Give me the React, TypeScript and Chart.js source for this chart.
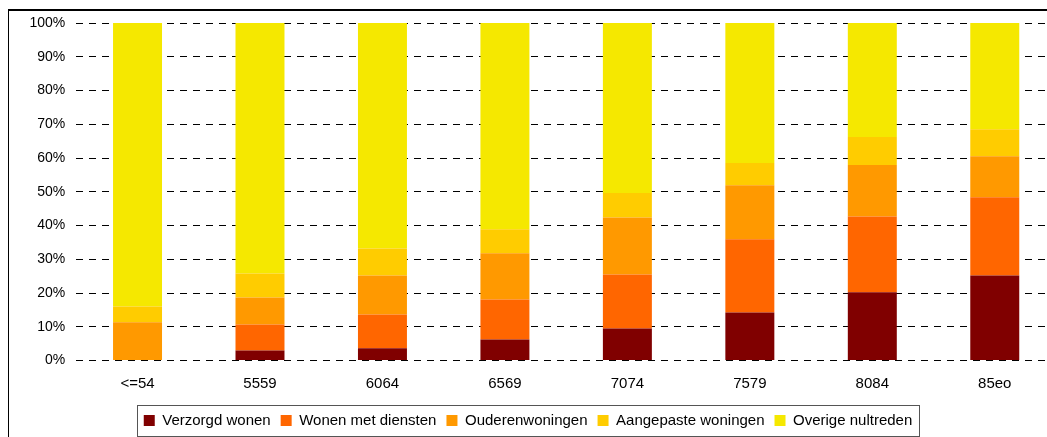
import React, { useEffect, useRef } from "react";
import { Chart, registerables } from "chart.js";

Chart.register(...registerables);

const categories = ["<=54", "5559", "6064", "6569", "7074", "7579", "8084", "85eo"];
const verzorgdWonen = [0, 3.0, 3.6, 6.2, 9.5, 14.2, 20.2, 25.2];
const wonenMetDiensten = [0, 7.7, 10.0, 11.9, 16.0, 21.7, 22.5, 23.2];
const ouderenwoningen = [11.3, 8.0, 11.6, 13.7, 16.9, 16.0, 15.2, 12.1];
const aangepasteWoningen = [4.7, 7.1, 8.0, 7.1, 7.2, 6.6, 8.3, 8.0];
const overigeNultreden = [84.0, 74.2, 66.8, 61.1, 50.4, 41.5, 33.8, 31.5];

const FONT = "'Liberation Sans', Arial, sans-serif";

const legendFrame = {
  id: "legendFrame",
  afterDraw(chart: any) {
    const lg = chart.legend;
    if (!lg || !lg.lineWidths) return;
    const pad = lg.options.labels.padding;
    const row = lg.lineWidths[0];
    const x0 = (lg.left + pad + lg.right - row) / 2;
    const w = row - pad;
    const ctx = chart.ctx;
    ctx.save();
    ctx.strokeStyle = "#555";
    ctx.lineWidth = 1;
    ctx.strokeRect(Math.round(x0 - 7) + 0.5, Math.round(lg.top + 2) + 0.5, Math.round(w + 14), Math.round(lg.height - 4));
    ctx.restore();
  },
};

export default function App() {
  const ref = useRef<HTMLCanvasElement>(null);
  useEffect(() => {
    if (!ref.current) return;
    const chart = new Chart(ref.current, {
      type: "bar",
      data: {
        labels: categories,
        datasets: [
          { label: "Verzorgd wonen", data: verzorgdWonen, backgroundColor: "#800000" },
          { label: "Wonen met diensten", data: wonenMetDiensten, backgroundColor: "#FF6600" },
          { label: "Ouderenwoningen", data: ouderenwoningen, backgroundColor: "#FF9900" },
          { label: "Aangepaste woningen", data: aangepasteWoningen, backgroundColor: "#FFCC00" },
          { label: "Overige nultreden", data: overigeNultreden, backgroundColor: "#F5E800" },
        ],
      },
      options: {
        responsive: false,
        animation: false,
        devicePixelRatio: 1,
        layout: { padding: { top: 23, left: 0, right: 0, bottom: 0 } },
        datasets: { bar: { barPercentage: 0.4, categoryPercentage: 1, borderWidth: 0 } },
        plugins: {
          legend: {
            position: "bottom",
            labels: {
              boxWidth: 11,
              boxHeight: 11,
              padding: 10,
              color: "#000",
              font: { family: FONT, size: 15 },
            },
          },
          tooltip: { enabled: false },
          title: { display: false },
        },
        scales: {
          x: {
            stacked: true,
            grid: { display: false, drawTicks: false },
            border: { display: false },
            ticks: { color: "#000", padding: 14, font: { family: FONT, size: 15 } },
            afterFit: (s: any) => {
              s.height = 42.5;
            },
          },
          y: {
            stacked: true,
            min: 0,
            max: 100,
            grid: { color: "#000", lineWidth: 1, drawTicks: false },
            border: { display: false, dash: [7, 6] },
            ticks: {
              stepSize: 10,
              color: "#000",
              padding: 11,
              font: { family: FONT, size: 14 },
              callback: (v: any) => v + "%",
            },
            afterFit: (s: any) => {
              s.width = 76.3;
            },
          },
        },
      },
      plugins: [legendFrame],
    });
    return () => chart.destroy();
  }, []);

  return (
    <div style={{ position: "fixed", left: 0, top: 0, width: "100vw", height: "100vh", overflow: "hidden", background: "#fff" }}>
      <div
        style={{
          position: "absolute",
          left: 8,
          top: 9,
          width: 1200,
          height: 600,
          border: "1px solid #000",
          borderTop: "2px solid #000",
          boxSizing: "border-box",
        }}
      />
      <canvas
        ref={ref}
        width={1056}
        height={438}
        style={{ position: "absolute", left: 0, top: 0, width: 1056, height: 438 }}
      />
    </div>
  );
}
